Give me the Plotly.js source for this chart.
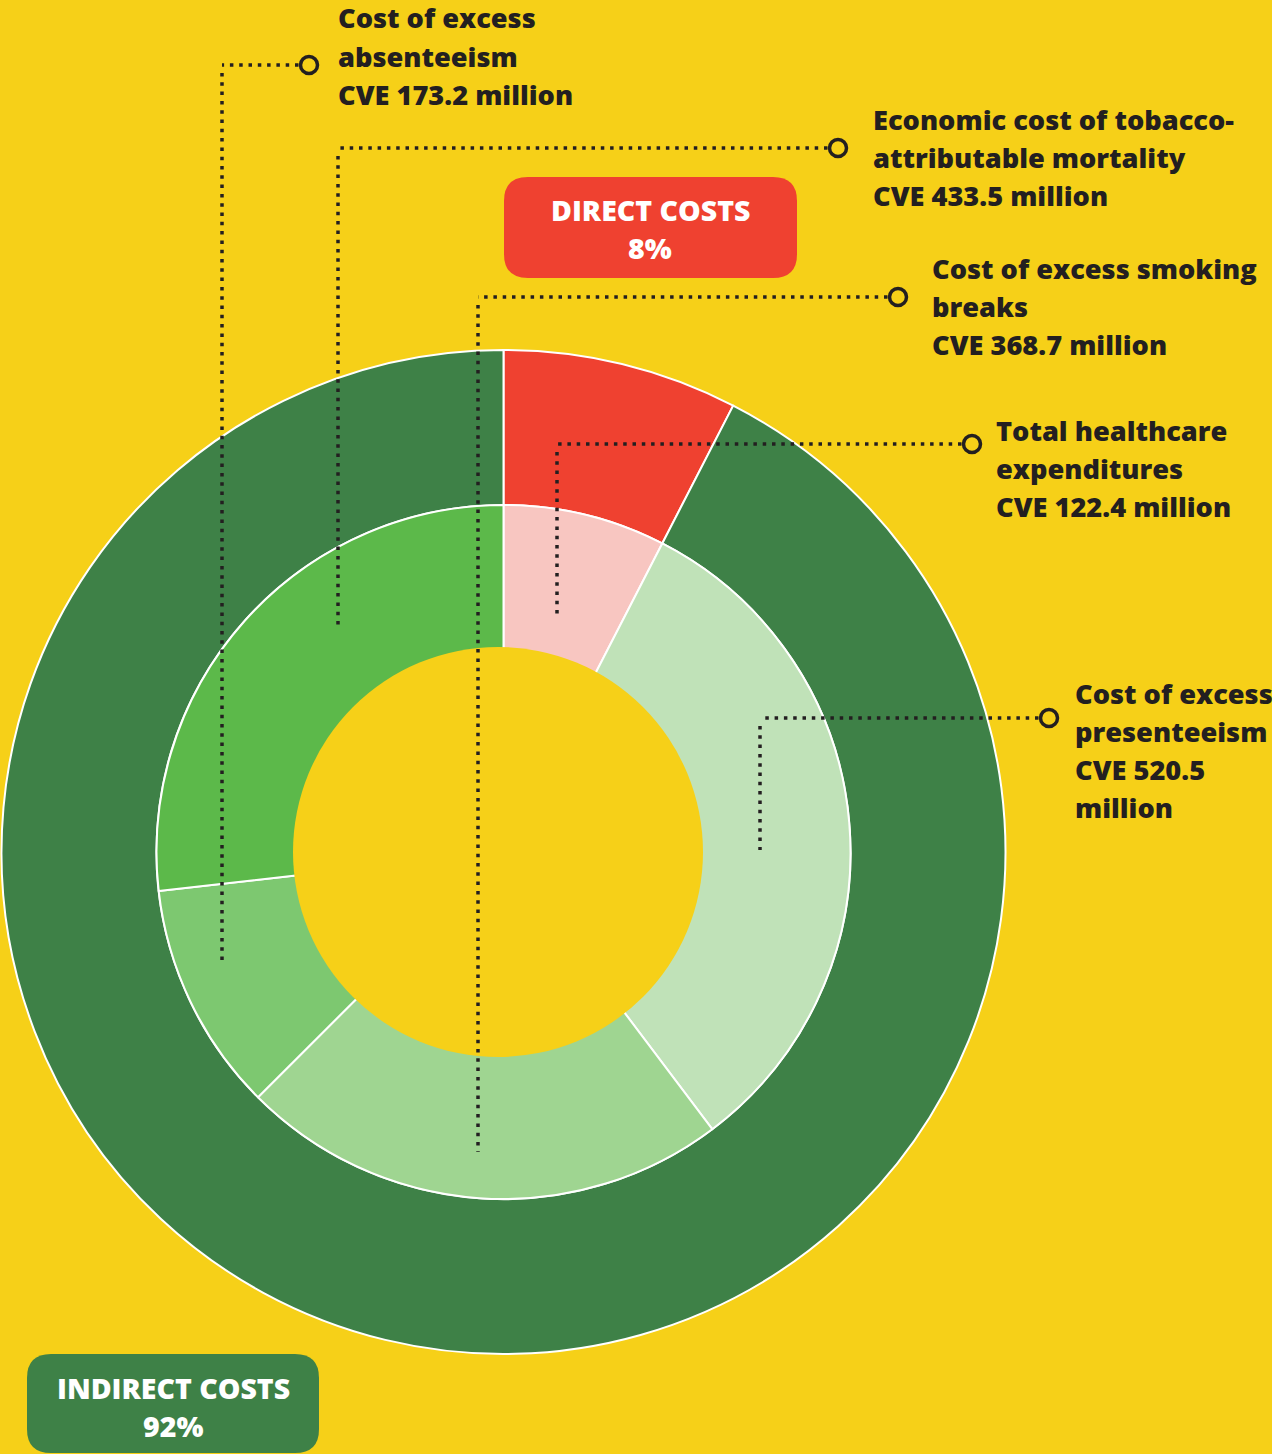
<!DOCTYPE html>
<html>
<head>
<meta charset="utf-8">
<script src="https://cdn.plot.ly/plotly-3.0.1.min.js"></script>
<style>html,body{margin:0;padding:0;background:#f6d018;}#chart{width:1272px;height:1454px;}</style>
</head>
<body>
<div id="chart"></div>
<script>
// ---- data ----
const categories = ["Total healthcare expenditures", "Cost of excess presenteeism", "Cost of excess smoking breaks", "Cost of excess absenteeism", "Economic cost of tobacco-attributable mortality"];
const valuesCVE = [122.4, 520.5, 368.7, 173.2, 433.5];           // CVE million
const costGroup = ["Direct", "Indirect", "Indirect", "Indirect", "Indirect"];
const groupNames = ["Direct", "Indirect"];
const groupLabels = ["DIRECT COSTS", "INDIRECT COSTS"];
const groupPct = [8, 92];
const labelLines = [
  ["Total healthcare", "expenditures"],
  ["Cost of excess", "presenteeism"],
  ["Cost of excess smoking", "breaks"],
  ["Cost of excess", "absenteeism"],
  ["Economic cost of tobacco-", "attributable mortality"]
];
const valueOnOwnLine = [false, true, false, false, false];

// ---- styles / positions ----
const W = 1272, H = 1454;
const px = x => x / W, py = y => 1 - y / H;
const bg = "#f6d018";
const innerColors = ["#f8c6c1", "#c0e2b8", "#9fd591", "#7dc870", "#5cb94a"];
const groupColors = ["#ef4130", "#3e8147"];
const ink = "#231f20";
const FONT = "'Open Sans', Lato, sans-serif";
const FS = 27.2, LH = 38.3;

const outerValues = groupNames.map(g => valuesCVE.reduce((s, v, i) => s + (costGroup[i] === g ? v : 0), 0));

const cx = 503.5, cy = 852, rOuter = 502, rMid = 347;
const holeCx = cx - 5.5, holeR = 205;   // centre hole sits slightly left of ring centre

const traces = [
  {
    type: "pie", values: outerValues, labels: groupLabels, sort: false, direction: "clockwise", rotation: 0,
    hole: rMid / rOuter, textinfo: "none", hoverinfo: "label+percent",
    marker: {colors: groupColors, line: {color: "#ffffff", width: 2}},
    domain: {x: [px(cx - rOuter), px(cx + rOuter)], y: [py(cy + rOuter), py(cy - rOuter)]},
    showlegend: false
  },
  {
    type: "pie", values: valuesCVE, labels: categories, sort: false, direction: "clockwise", rotation: 0,
    hole: 185 / rMid, textinfo: "none", hoverinfo: "label+value",
    marker: {colors: innerColors, line: {color: "#ffffff", width: 2}},
    domain: {x: [px(cx - rMid), px(cx + rMid)], y: [py(cy + rMid), py(cy - rMid)]},
    showlegend: false
  }
];

// label placement (text left x, first line centre y) and leader geometry
const labelPos = [
  {x: 994, y: 430, c: [972, 444], corner: 557, end: 617},
  {x: 1073, y: 693, c: [1049, 718], corner: 760, end: 850},
  {x: 930, y: 268, c: [898, 297], corner: 478, end: 1152},
  {x: 336, y: 18, c: [309, 65], corner: 222, end: 960},
  {x: 871, y: 119, c: [838, 148], corner: 338, end: 630}
];

const shapes = [];
const annotations = [];
const dotLine = {color: ink, width: 3.5, dash: "3.5px,5.8px"};
const cr = 8.5;

// centre hole
shapes.push({type: "circle", xref: "paper", yref: "paper",
  x0: px(holeCx - holeR), x1: px(holeCx + holeR), y0: py(cy + holeR), y1: py(cy - holeR),
  fillcolor: bg, line: {width: 0}});

function addLines(lines, x, y0, anchor, color, fs) {
  lines.forEach((t, k) => {
    annotations.push({
      xref: "paper", yref: "paper", x: px(x), y: py(y0 + k * LH), xanchor: anchor, yanchor: "middle", align: anchor,
      showarrow: false, text: t, font: {family: FONT, size: fs, color: color, weight: 800}
    });
  });
}

categories.forEach((c, i) => {
  const p = labelPos[i];
  const v = "CVE " + valuesCVE[i].toFixed(1);
  const lines = labelLines[i].concat(valueOnOwnLine[i] ? [v, "million"] : [v + " million"]);
  addLines(lines, p.x, p.y, "left", ink, FS);
  shapes.push({type: "line", xref: "paper", yref: "paper", x0: px(p.c[0] - cr - 2), y0: py(p.c[1]), x1: px(p.corner), y1: py(p.c[1]), line: dotLine});
  shapes.push({type: "line", xref: "paper", yref: "paper", x0: px(p.corner), y0: py(p.c[1] + 8), x1: px(p.corner), y1: py(p.end), line: dotLine});
  shapes.push({type: "circle", xref: "paper", yref: "paper", x0: px(p.c[0] - cr), x1: px(p.c[0] + cr), y0: py(p.c[1] + cr), y1: py(p.c[1] - cr), line: {color: ink, width: 3.5}, fillcolor: "rgba(0,0,0,0)"});
});

// rounded boxes for group totals
function roundRect(x0, y0, x1, y1, r) {
  const X = px, Y = py;
  return "M" + X(x0 + r) + "," + Y(y0) + " L" + X(x1 - r) + "," + Y(y0) +
    " Q" + X(x1) + "," + Y(y0) + " " + X(x1) + "," + Y(y0 + r) +
    " L" + X(x1) + "," + Y(y1 - r) +
    " Q" + X(x1) + "," + Y(y1) + " " + X(x1 - r) + "," + Y(y1) +
    " L" + X(x0 + r) + "," + Y(y1) +
    " Q" + X(x0) + "," + Y(y1) + " " + X(x0) + "," + Y(y1 - r) +
    " L" + X(x0) + "," + Y(y0 + r) +
    " Q" + X(x0) + "," + Y(y0) + " " + X(x0 + r) + "," + Y(y0) + " Z";
}
const boxPos = [
  {x0: 504, y0: 177, x1: 797, y1: 278, tx: 650, ty: 210},
  {x0: 27, y0: 1354, x1: 319, y1: 1453, tx: 173, ty: 1388}
];
groupLabels.forEach((g, i) => {
  const b = boxPos[i];
  shapes.push({type: "path", xref: "paper", yref: "paper", path: roundRect(b.x0, b.y0, b.x1, b.y1, 24), fillcolor: groupColors[i], line: {width: 0}});
  addLines([g, groupPct[i] + "%"], b.tx, b.ty, "center", "#ffffff", 28.5);
});

const layout = {
  width: W, height: H,
  margin: {l: 0, r: 0, t: 0, b: 0},
  paper_bgcolor: bg, plot_bgcolor: bg,
  showlegend: false,
  shapes: shapes,
  annotations: annotations
};

Plotly.newPlot("chart", traces, layout, {displayModeBar: false, staticPlot: true});
</script>
</body>
</html>
